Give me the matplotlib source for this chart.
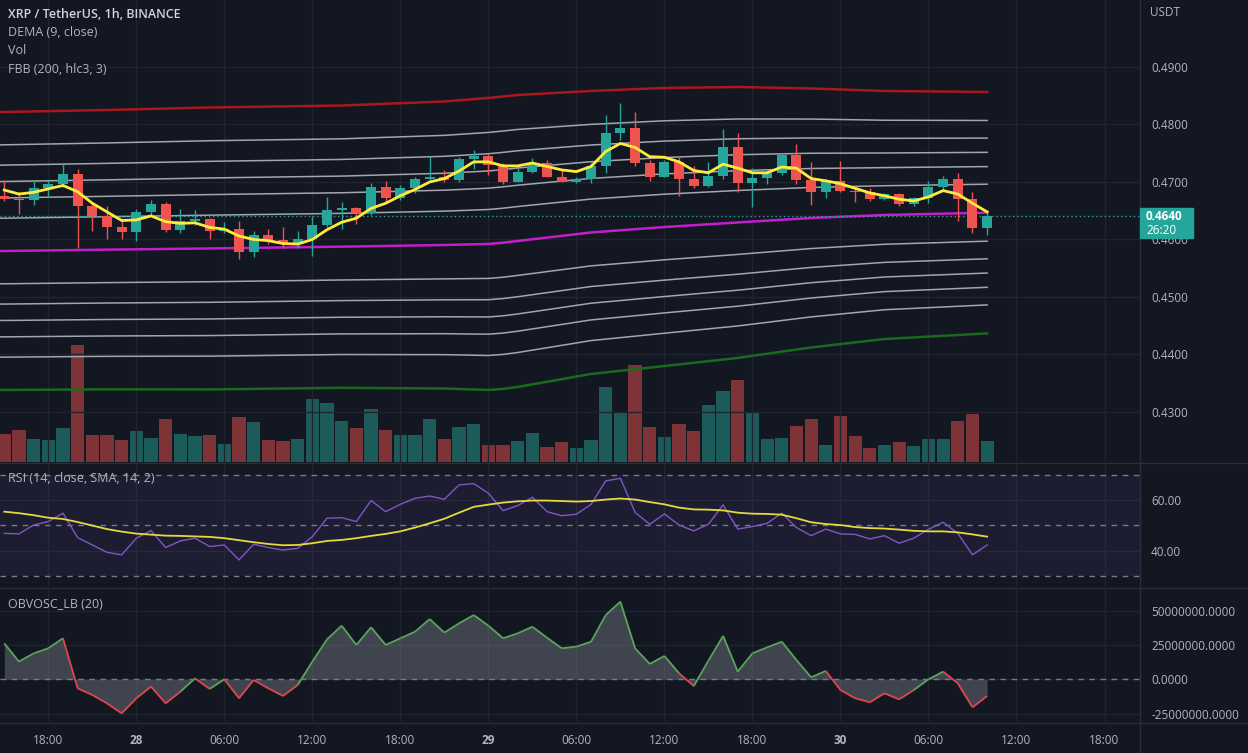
import matplotlib
matplotlib.use('Agg')
import matplotlib.pyplot as plt
import numpy as np
from matplotlib.collections import LineCollection
from matplotlib.patches import Rectangle
from matplotlib.lines import Line2D

plt.rcParams['font.family'] = ['Open Sans', 'DejaVu Sans']

# ---- data (1h candles, 27th 15:00 .. 30th 10:00) ----
opens = [0.4676, 0.4670, 0.4669, 0.4690, 0.4697, 0.4714, 0.4659, 0.4640, 0.4622, 0.4613,
         0.4648, 0.4662, 0.4617, 0.4632, 0.4636, 0.4614, 0.4619, 0.4579, 0.4608, 0.4599,
         0.4593, 0.4600, 0.4625, 0.4651, 0.4654, 0.4646, 0.4692, 0.4673, 0.4689, 0.4705,
         0.4709, 0.4704, 0.4740, 0.4745, 0.4730, 0.4700, 0.4717, 0.4733, 0.4709, 0.4700,
         0.4705, 0.4728, 0.4785, 0.4794, 0.4733, 0.4709, 0.4734, 0.4705, 0.4693, 0.4710,
         0.4761, 0.4699, 0.4707, 0.4716, 0.4747, 0.4703, 0.4683, 0.4702, 0.4685, 0.4683,
         0.4670, 0.4679, 0.4661, 0.4672, 0.4691, 0.4705, 0.4670, 0.4620]
highs = [0.4704, 0.4683, 0.4702, 0.4704, 0.4733, 0.4723, 0.4662, 0.4658, 0.4634, 0.4653,
         0.4669, 0.4666, 0.4653, 0.4651, 0.4637, 0.4631, 0.4632, 0.4615, 0.4618, 0.4621,
         0.4615, 0.4640, 0.4674, 0.4666, 0.4657, 0.4698, 0.4701, 0.4695, 0.4709, 0.4745,
         0.4721, 0.4744, 0.4756, 0.4748, 0.4733, 0.4725, 0.4741, 0.4738, 0.4721, 0.4709,
         0.4733, 0.4817, 0.4837, 0.4821, 0.4738, 0.4738, 0.4744, 0.4727, 0.4734, 0.4792,
         0.4785, 0.4724, 0.4721, 0.4751, 0.4766, 0.4734, 0.4706, 0.4737, 0.4695, 0.4689,
         0.4681, 0.4681, 0.4674, 0.4702, 0.4710, 0.4715, 0.4683, 0.4648]
lows = [0.4667, 0.4644, 0.4660, 0.4674, 0.4692, 0.4585, 0.4614, 0.4601, 0.4601, 0.4597,
        0.4643, 0.4613, 0.4611, 0.4625, 0.4601, 0.4611, 0.4566, 0.4570, 0.4593, 0.4586,
        0.4585, 0.4571, 0.4622, 0.4618, 0.4627, 0.4643, 0.4666, 0.4669, 0.4681, 0.4701,
        0.4700, 0.4700, 0.4723, 0.4713, 0.4696, 0.4700, 0.4715, 0.4708, 0.4700, 0.4699,
        0.4698, 0.4715, 0.4773, 0.4727, 0.4702, 0.4708, 0.4676, 0.4689, 0.4692, 0.4706,
        0.4683, 0.4657, 0.4697, 0.4712, 0.4697, 0.4660, 0.4673, 0.4683, 0.4666, 0.4667,
        0.4669, 0.4658, 0.4658, 0.4663, 0.4686, 0.4633, 0.4611, 0.4608]
closes = [0.4670, 0.4669, 0.4690, 0.4697, 0.4714, 0.4659, 0.4640, 0.4622, 0.4613, 0.4648,
          0.4662, 0.4617, 0.4632, 0.4636, 0.4614, 0.4619, 0.4579, 0.4608, 0.4599, 0.4593,
          0.4600, 0.4625, 0.4651, 0.4654, 0.4646, 0.4692, 0.4673, 0.4689, 0.4705, 0.4709,
          0.4704, 0.4740, 0.4745, 0.4730, 0.4700, 0.4717, 0.4733, 0.4709, 0.4700, 0.4705,
          0.4728, 0.4785, 0.4794, 0.4733, 0.4709, 0.4734, 0.4705, 0.4693, 0.4710, 0.4761,
          0.4699, 0.4707, 0.4716, 0.4747, 0.4703, 0.4683, 0.4702, 0.4685, 0.4683, 0.4670,
          0.4679, 0.4661, 0.4672, 0.4691, 0.4705, 0.4670, 0.4620, 0.4640]
# volume, millions XRP
volume = [2.83, 3.17, 2.27, 2.17, 3.43, 11.67, 2.73, 2.73, 2.17, 3.07,
          2.43, 4.27, 2.83, 2.63, 2.73, 1.83, 4.47, 3.97, 2.17, 2.10,
          2.27, 6.33, 5.90, 4.07, 3.43, 5.27, 3.17, 2.73, 2.73, 4.27,
          2.27, 3.47, 3.77, 1.67, 1.67, 2.07, 2.87, 1.47, 1.97, 1.37,
          2.17, 7.47, 4.97, 9.67, 3.47, 2.47, 3.77, 3.07, 5.67, 7.07,
          8.17, 4.97, 2.27, 2.37, 3.57, 4.27, 1.67, 4.57, 2.57, 1.37,
          1.67, 1.97, 1.57, 2.27, 2.27, 4.07, 4.77, 2.07]
dema = [0.4686, 0.4679, 0.4682, 0.4688, 0.4694, 0.4683, 0.4663, 0.4648, 0.4633, 0.4634,
        0.4641, 0.4631, 0.4628, 0.4629, 0.4621, 0.4618, 0.4606, 0.4600, 0.4598, 0.4593,
        0.4592, 0.4600, 0.4617, 0.4630, 0.4637, 0.4654, 0.4663, 0.4676, 0.4687, 0.4700,
        0.4706, 0.4719, 0.4735, 0.4735, 0.4728, 0.4728, 0.4733, 0.4727, 0.4721, 0.4718,
        0.4727, 0.4753, 0.4767, 0.4760, 0.4744, 0.4743, 0.4735, 0.4720, 0.4716, 0.4731,
        0.4724, 0.4716, 0.4716, 0.4726, 0.4724, 0.4706, 0.4702, 0.4697, 0.4689, 0.4681,
        0.4676, 0.4670, 0.4667, 0.4674, 0.4685, 0.4679, 0.4663, 0.4648]
# Fibonacci Bollinger Bands: basis and upper band at sampled bars
band_idx = [-1, 0, 7, 14, 23, 30, 33, 34, 35, 40, 45, 50, 55, 60, 67]
fbb_basis = [0.45800, 0.45800, 0.45823, 0.45844, 0.45875, 0.45904, 0.45922, 0.45944,
             0.45974, 0.46122, 0.46217, 0.46296, 0.46374, 0.46426, 0.46466]
fbb_upper = [0.48209, 0.48217, 0.48252, 0.48296, 0.48330, 0.48400, 0.48461, 0.48487,
             0.48513, 0.48583, 0.48635, 0.48652, 0.48626, 0.48583, 0.48565]
fib_ratios = [0.236, 0.382, 0.5, 0.618, 0.764]

rsi = [46.8, 46.6, 50.1, 51.5, 54.8, 45.1, 42.2, 39.3, 38.3, 44.9,
       47.9, 41.2, 43.8, 44.9, 41.6, 42.2, 36.3, 42.5, 41.2, 40.2,
       40.9, 45.5, 52.8, 53.0, 51.5, 59.8, 55.4, 58.3, 60.7, 61.6,
       60.3, 66.0, 66.5, 62.7, 55.8, 57.8, 61.1, 55.4, 53.8, 54.4,
       58.3, 67.6, 68.6, 55.1, 50.4, 54.5, 50.1, 47.8, 50.4, 58.1,
       48.5, 49.5, 50.8, 54.8, 49.1, 45.9, 48.5, 46.6, 46.4, 44.6,
       45.9, 42.9, 44.9, 48.4, 51.2, 46.8, 38.3, 42.2]
rsi_ma = [55.4, 54.8, 54.0, 53.0, 52.5, 51.3, 49.9, 48.5, 47.5, 46.7,
          46.3, 45.9, 45.8, 45.6, 45.4, 44.9, 44.1, 43.3, 42.6, 42.1,
          42.2, 42.9, 43.8, 44.2, 44.9, 45.8, 46.6, 47.6, 49.1, 50.8,
          52.6, 55.0, 57.3, 58.2, 59.0, 59.5, 59.8, 59.8, 59.6, 59.4,
          59.6, 60.2, 60.6, 60.2, 59.2, 58.3, 57.0, 56.3, 56.2, 55.9,
          55.0, 54.6, 54.5, 54.2, 52.8, 51.2, 50.5, 50.1, 49.3, 48.9,
          48.7, 48.3, 47.8, 47.6, 47.6, 47.2, 46.4, 45.5]
# OBV oscillator, millions
obvosc = [26.2, 12.9, 18.9, 22.6, 29.9, -6.6, -11.4, -17.5, -24.8, -13.8,
          -5.3, -17.5, -9.0, 0.7, -7.0, 0.0, -13.8, -0.5, -6.6, -12.1,
          -4.1, 12.9, 29.1, 39.1, 25.0, 37.9, 25.0, 29.9, 34.7, 43.9,
          34.0, 40.8, 46.8, 39.1, 29.9, 33.5, 38.3, 30.3, 22.6, 23.8,
          27.4, 46.8, 56.6, 22.6, 11.2, 17.0, 4.4, -4.9, 13.6, 31.6,
          5.6, 18.9, 23.3, 27.4, 14.1, 1.5, 6.1, -7.8, -13.8, -16.7,
          -10.2, -14.6, -7.8, 0.0, 5.6, -2.9, -20.4, -12.1]

time_ticks = [3, 9, 15, 21, 27, 33, 39, 45, 51, 57, 63, 69, 75]
time_labels = ['18:00', '28', '06:00', '12:00', '18:00', '29', '06:00', '12:00',
               '18:00', '30', '06:00', '12:00', '18:00']
last_price = 0.4640

# ---- styling ----
BG = '#131722'
GRID = '#20242f'
SEP = '#2a2e39'
TXT = '#b2b5be'
UP = '#26a69a'
DN = '#ef5350'

W, H = 1248, 753
fig = plt.figure(figsize=(W / 100, H / 100), dpi=100, facecolor=BG)


def fy(py):
    return 1 - py / H


PX = 1140  # right edge of the panes, price scale to the right
ax = fig.add_axes([0, fy(462), PX / W, 462 / H])
ax_rsi = fig.add_axes([0, fy(587), PX / W, (587 - 464) / H], sharex=ax)
ax_obv = fig.add_axes([0, fy(722), PX / W, (722 - 589) / H], sharex=ax)

# volume underneath the price pane (twinx moves ax ticks left, so set it up first)
ax_vol = ax.twinx()
ax_vol.set_zorder(ax.get_zorder() - 1)
ax_vol.axis('off')

x = np.arange(len(closes))
o, h, l, c = map(np.array, (opens, highs, lows, closes))
cols = np.where(c >= o, UP, DN)

for a in (ax, ax_rsi, ax_obv):
    a.set_facecolor('none')
    for s in a.spines.values():
        s.set_visible(False)
    a.yaxis.tick_right()
    a.tick_params(axis='both', length=0, labelcolor=TXT, labelsize=8.5)
    a.tick_params(axis='y', pad=8, labelright=True, labelleft=False)
    a.set_xticks(time_ticks)
    a.grid(True, color=GRID, lw=1)
    a.set_axisbelow(True)
ax.set_xlim(-0.293, 77.42)

vcols = np.where(c >= o, '#1d5b5b', '#7e3437')
ax_vol.bar(x, volume, width=0.9, color=vcols)
ax_vol.set_ylim(0, max(volume) * 3.96)

# FBB
bi = np.array(band_idx)
bb = np.array(fbb_basis)
bu = np.array(fbb_upper)
dev = bu - bb
for r in fib_ratios:
    ax.plot(bi, bb + r * dev, color='#a3a6af', lw=1.1, zorder=1)
    ax.plot(bi, bb - r * dev, color='#a3a6af', lw=1.1, zorder=1)
ax.plot(bi, bu, color='#a8181e', lw=1.8, zorder=1)
ax.plot(bi, bb, color='#c21fc9', lw=1.8, zorder=1)
ax.plot(bi, bb - dev, color='#1b6a1e', lw=1.8, zorder=1)

# candles
ax.vlines(x, l, h, colors=cols, lw=1, zorder=3)
body = np.maximum(np.abs(c - o), 0.00015)
ax.bar(x, body, bottom=np.minimum(o, c), width=0.68, color=cols, zorder=3)
ax.plot(x, dema, color='#ffeb3b', lw=2, zorder=4)
ax.axhline(last_price, color=UP, lw=1, ls=(0, (1, 2)), zorder=2)

ax.set_ylim(0.42130, 0.50165)
pt = [0.43, 0.44, 0.45, 0.46, 0.47, 0.48, 0.49]
ax.set_yticks(pt)
ax.set_yticklabels([f'{v:.4f}' for v in pt])
ax.tick_params(axis='x', labelbottom=False)

# RSI pane
ax_rsi.axhspan(30, 70, color='#7e57c2', alpha=0.1, lw=0)
for lv in (30, 50, 70):
    ax_rsi.axhline(lv, color='#787b86', lw=1, ls=(0, (4, 4)))
ax_rsi.plot(x, rsi, color='#7e57c2', lw=1)
ax_rsi.plot(x, rsi_ma, color='#e6d93c', lw=1.3)
ax_rsi.set_ylim(25.56, 74.28)
ax_rsi.set_yticks([40, 60])
ax_rsi.set_yticklabels(['40.00', '60.00'])
ax_rsi.tick_params(axis='x', labelbottom=False)

# OBV oscillator pane
ob = np.array(obvosc) * 1e6
ax_obv.fill_between(x, 0, ob, color='#787b86', alpha=0.45, lw=0)
segs = [[(x[i], ob[i]), (x[i + 1], ob[i + 1])] for i in range(len(x) - 1)]
seg_cols = ['#59a65b' if ob[i + 1] >= 0 else '#e0474c' for i in range(len(x) - 1)]
ax_obv.add_collection(LineCollection(segs, colors=seg_cols, lw=1.3))
ax_obv.axhline(0, color='#787b86', lw=1, ls=(0, (4, 4)))
ax_obv.set_ylim(-31.1e6, 65.8e6)
ot = [-25e6, 0, 25e6, 50e6]
ax_obv.set_yticks(ot)
ax_obv.set_yticklabels([f'{v:.4f}' for v in ot])
ax_obv.set_xticklabels(time_labels)
ax_obv.tick_params(axis='x', pad=9)
for lab, t in zip(ax_obv.get_xticklabels(), time_labels):
    if ':' not in t:
        lab.set_fontweight('bold')

# separators
for yy in (463, 588, 723):
    fig.add_artist(Line2D([0, 1], [fy(yy), fy(yy)], transform=fig.transFigure, color=SEP, lw=1))
fig.add_artist(Line2D([PX / W, PX / W], [0, 1], transform=fig.transFigure, color=SEP, lw=1))

# legends
fig.text(8 / W, fy(14), 'XRP / TetherUS, 1h, BINANCE', color='#d1d4dc', fontsize=9,
         fontweight='semibold', va='center')
for k, s in enumerate(['DEMA (9, close)', 'Vol', 'FBB (200, hlc3, 3)']):
    fig.text(8 / W, fy(32 + 18.7 * k), s, color=TXT, fontsize=9, va='center')
fig.text(8 / W, fy(478), 'RSI (14, close, SMA, 14, 2)', color=TXT, fontsize=9, va='center')
fig.text(8 / W, fy(604), 'OBVOSC_LB (20)', color=TXT, fontsize=9, va='center')
fig.text(1150 / W, fy(13), 'USDT', color=TXT, fontsize=8.5, va='center')

# last price tag
fig.add_artist(Rectangle((PX / W, fy(238)), 53 / W, 30 / H, transform=fig.transFigure,
                         color=UP, zorder=5))
fig.text(1146 / W, fy(216), f'{last_price:.4f}', color='white', fontsize=8.5,
         fontweight='bold', va='center', zorder=6)
fig.text(1146 / W, fy(230.5), '26:20', color='white', fontsize=8.5, va='center', zorder=6)

fig.savefig('out.png', dpi=100, facecolor=BG)
